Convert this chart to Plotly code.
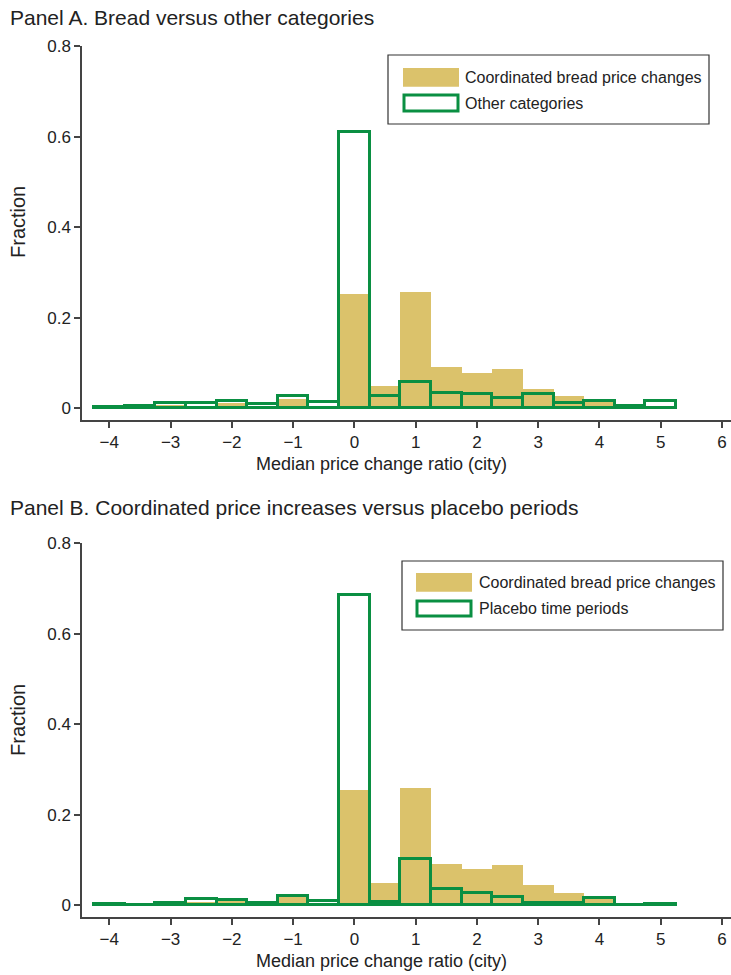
import plotly.graph_objects as go

# ---- data ----
bins = [-4, -3.5, -3, -2.5, -2, -1.5, -1, -0.5, 0, 0.5, 1, 1.5, 2, 2.5, 3, 3.5, 4, 4.5, 5]

bread_A = [0.001, 0.002, 0.007, 0.006, 0.011, 0.005, 0.021, 0.003, 0.253, 0.049,
           0.257, 0.091, 0.078, 0.087, 0.043, 0.027, 0.014, 0.004, 0.0]
other_A = [0.002, 0.004, 0.012, 0.011, 0.015, 0.010, 0.027, 0.014, 0.610, 0.028,
           0.059, 0.034, 0.032, 0.023, 0.031, 0.011, 0.017, 0.006, 0.015]

bread_B = [0.001, 0.0, 0.010, 0.008, 0.009, 0.009, 0.018, 0.004, 0.254, 0.048,
           0.258, 0.090, 0.079, 0.088, 0.044, 0.026, 0.014, 0.006, 0.0]
placebo_B = [0.002, 0.001, 0.004, 0.014, 0.011, 0.005, 0.021, 0.009, 0.685, 0.007,
             0.102, 0.035, 0.027, 0.018, 0.005, 0.004, 0.015, 0.001, 0.002]

x_ticks = [-4, -3, -2, -1, 0, 1, 2, 3, 4, 5, 6]
y_ticks = [0, 0.2, 0.4, 0.6, 0.8]
y_tick_text = ["0", "0.2", "0.4", "0.6", "0.8"]

panel_titles = ["Panel A. Bread versus other categories",
                "Panel B. Coordinated price increases versus placebo periods"]
legend_A = ["Coordinated bread price changes", "Other categories"]
legend_B = ["Coordinated bread price changes", "Placebo time periods"]
x_title = "Median price change ratio (city)"
y_title = "Fraction"

GOLD = "#DBC26B"
GREEN = "#0A8F42"
TXT = "#222222"
AX = "#444444"
FONT = "Liberation Sans, Arial, Helvetica, sans-serif"

W, H = 731, 975
ML = 82


def px(x):
    return (x - ML) / (W - ML)


def py(y):
    return 1 - y / H


fig = go.Figure()

for (gold, green, xa, ya, names) in [
    (bread_A, other_A, "x", "y", legend_A),
    (bread_B, placebo_B, "x2", "y2", legend_B),
]:
    fig.add_trace(go.Bar(x=bins, y=gold, width=0.5, xaxis=xa, yaxis=ya,
                         marker=dict(color=GOLD, line=dict(width=0)),
                         name=names[0], showlegend=False))
    fig.add_trace(go.Bar(x=bins, y=green, width=0.5, xaxis=xa, yaxis=ya,
                         marker=dict(color="rgba(0,0,0,0)", line=dict(color=GREEN, width=3)),
                         name=names[1], showlegend=False))

xcommon = dict(range=[-4.4456, 6.147], tickvals=x_ticks, showline=True, linecolor=AX,
               linewidth=1.5, ticks="outside", ticklen=6, tickwidth=1.5, tickcolor=AX,
               showgrid=False, zeroline=False, automargin=False,
               tickfont=dict(size=17, color=TXT, family=FONT))
ycommon = dict(range=[-0.026, 0.8], tickvals=y_ticks, ticktext=y_tick_text, showline=True,
               linecolor=AX, linewidth=1.5, ticks="outside", ticklen=6, tickwidth=1.5,
               tickcolor=AX, showgrid=False, zeroline=False, automargin=False,
               tickfont=dict(size=17, color=TXT, family=FONT))

fig.update_layout(
    width=W, height=H,
    margin=dict(l=ML, r=0, t=0, b=0, pad=0, autoexpand=False),
    paper_bgcolor="white", plot_bgcolor="white",
    barmode="overlay", bargap=0,
    font=dict(family=FONT, color=TXT),
    xaxis=dict(domain=[0, 1], anchor="y", **xcommon),
    yaxis=dict(domain=[py(420), py(46)], anchor="x", **ycommon),
    xaxis2=dict(domain=[0, 1], anchor="y2", **xcommon),
    yaxis2=dict(domain=[py(917), py(543)], anchor="x2", **ycommon),
)

shapes = []
annots = []

# panel titles
for t, yc in zip(panel_titles, [17, 507]):
    annots.append(dict(text=t, x=px(8), y=py(yc), xref="paper", yref="paper",
                       xanchor="left", yanchor="middle", showarrow=False,
                       font=dict(size=21, color=TXT, family=FONT)))

# axis titles
for yc in [464, 961]:
    annots.append(dict(text=x_title, x=px(381), y=py(yc), xref="paper", yref="paper",
                       xanchor="center", yanchor="middle", showarrow=False,
                       font=dict(size=18, color=TXT, family=FONT)))
for yc in [222, 720]:
    annots.append(dict(text=y_title, x=px(18), y=py(yc), xref="paper", yref="paper",
                       xanchor="center", yanchor="middle", showarrow=False, textangle=-90,
                       font=dict(size=20, color=TXT, family=FONT)))

# legends (box, swatches, labels)
legends = [
    dict(box=(388, 55, 709, 124), gold=(403, 68, 459, 86.7), green=(404, 95, 458, 111),
         tx=463, rows=(77.3, 103.3), labels=legend_A),
    dict(box=(402, 561, 723, 630), gold=(416, 573, 472, 591.7), green=(417, 601, 471, 616),
         tx=477, rows=(582, 608), labels=legend_B),
]
for L in legends:
    x0, y0, x1, y1 = L["box"]
    shapes.append(dict(type="rect", xref="paper", yref="paper", x0=px(x0), x1=px(x1),
                       y0=py(y1), y1=py(y0), line=dict(color="#333333", width=1.2),
                       fillcolor="white", layer="above"))
    gx0, gy0, gx1, gy1 = L["gold"]
    shapes.append(dict(type="rect", xref="paper", yref="paper", x0=px(gx0), x1=px(gx1),
                       y0=py(gy1), y1=py(gy0), line=dict(width=0), fillcolor=GOLD,
                       layer="above"))
    gx0, gy0, gx1, gy1 = L["green"]
    shapes.append(dict(type="rect", xref="paper", yref="paper", x0=px(gx0), x1=px(gx1),
                       y0=py(gy1), y1=py(gy0), line=dict(width=3, color=GREEN),
                       fillcolor="white", layer="above"))
    for lab, yc in zip(L["labels"], L["rows"]):
        annots.append(dict(text=lab, x=px(L["tx"]), y=py(yc), xref="paper", yref="paper",
                           xanchor="left", yanchor="middle", showarrow=False,
                           font=dict(size=16, color=TXT, family=FONT)))

fig.update_layout(shapes=shapes, annotations=annots)
fig.write_html("out.html")
